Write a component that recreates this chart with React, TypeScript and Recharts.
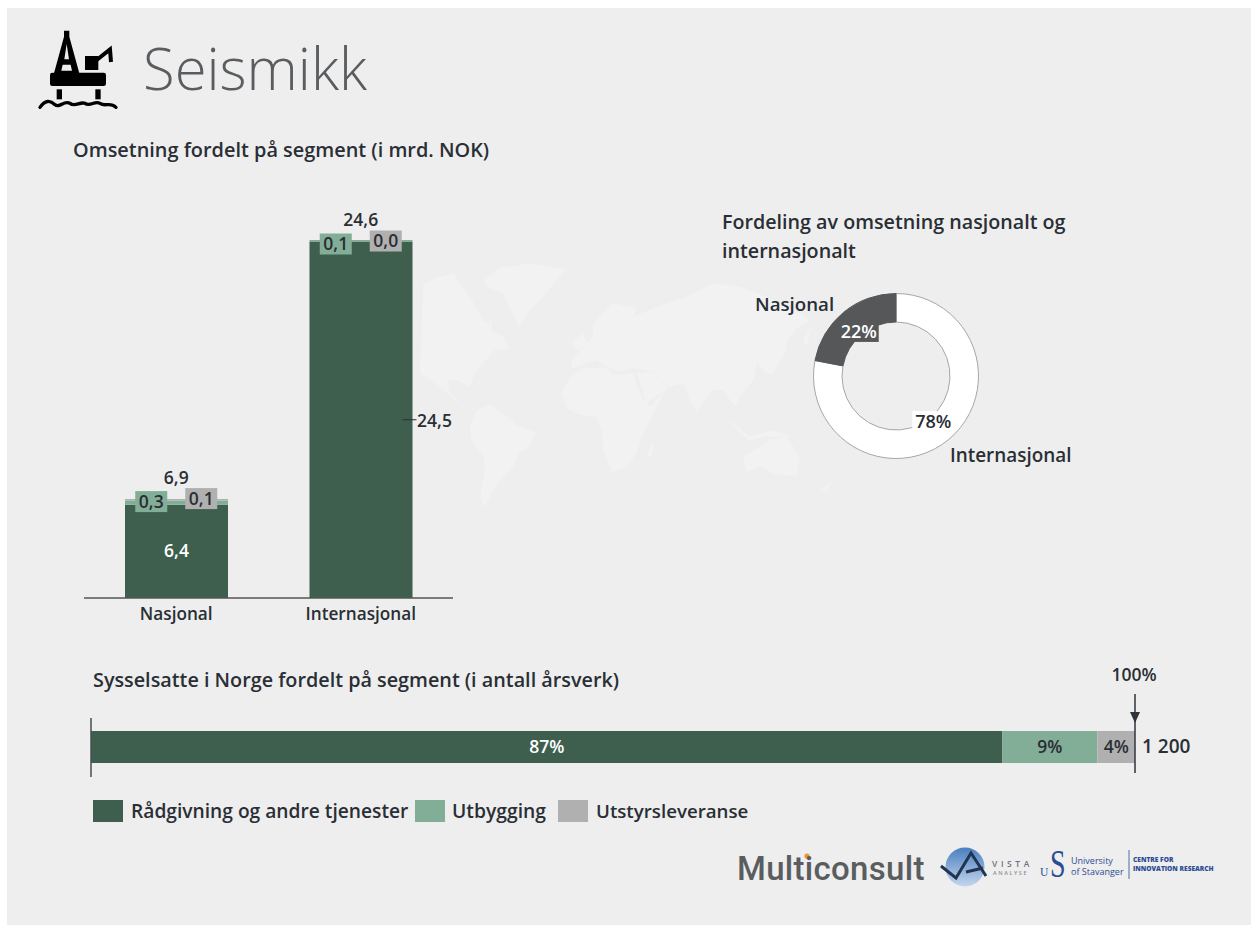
import { BarChart, ComposedChart, Bar, Line, XAxis, YAxis, LabelList, ReferenceLine, PieChart, Pie, Cell } from 'recharts'

// ── data ─────────────────────────────────────────────────────────────────────

const categories = ['Nasjonal', 'Internasjonal']
const radgivning = [6.4, 24.5]
const utbygging = [0.3, 0.1]
const utstyr = [0.1, 0.0]
const totals = [6.9, 24.6]

const donutNames = ['Internasjonal', 'Nasjonal']
const donutShares = [78, 22]

// bar widths, labels round them to whole percent
const staffShares = [87.3, 9.1, 3.6]
const staffTotal = '1 200'

const segmentNames = ['Rådgivning og andre tjenester', 'Utbygging', 'Utstyrsleveranse']

const DARK = '#3e5f4e'
const LIGHT = '#82ad96'
const GREY = '#b0b0b0'
const INK = '#2a2e35'
const FONT = '"Open Sans", sans-serif'

const revenueRows = categories.map((name, i) => ({
  name,
  radgivning: radgivning[i],
  utbygging: utbygging[i],
  utstyr: utstyr[i],
  total: totals[i],
}))
const staffRows = [{ name: 'Sysselsatte', a: staffShares[0], b: staffShares[1], c: staffShares[2] }]
const donutRows = donutNames.map((name, i) => ({ name, value: donutShares[i] }))

const comma = (v: number) => v.toFixed(1).replace('.', ',')

// ── small text helper ────────────────────────────────────────────────────────

function Txt({ x, y, children, size = 18, anchor = 'left', weight = 600, color = INK, family = FONT, spacing = 0, stretch = 1 }: any) {
  const shift = anchor === 'center' ? '-50%' : '0'
  return (
    <div
      style={{
        position: 'absolute', left: x, top: y, transform: `translate(${shift}, -50%) scaleY(${stretch})`,
        fontFamily: family, fontSize: size, fontWeight: weight, color, whiteSpace: 'nowrap',
        lineHeight: 1, letterSpacing: spacing,
      }}
    >
      {children}
    </div>
  )
}

// ── bar labels ───────────────────────────────────────────────────────────────

function svgText(x: number, y: number, text: string, fill = INK) {
  return (
    <text x={x} y={y - 1} textAnchor="middle" dominantBaseline="central" fontFamily={FONT} fontSize={17.5} fontWeight={600} fill={fill}>
      {text}
    </text>
  )
}

function labelBox(cx: number, cy: number, fill: string, value: number) {
  return (
    <g>
      <rect x={cx - 16} y={cy - 10.5} width={32} height={21} fill={fill} />
      {svgText(cx, cy, comma(value))}
    </g>
  )
}

// these three sit on the invisible total line: a zero-height bar gets no label,
// and the line is drawn after the bars so the boxes stay on top
function utbyggingLabel(props: any) {
  return labelBox(props.x - 25, props.y + 4, LIGHT, props.value)
}

function utstyrLabel(props: any) {
  return labelBox(props.x + 25, props.y + 1, GREY, props.value)
}

function totalLabel(props: any) {
  return svgText(props.x, props.y - 20, comma(props.value))
}

function mainLabel(props: any) {
  const { x, y, width, height, value, index } = props
  if (index === 0) return svgText(x + width / 2, y + height / 2, comma(value), '#fff')
  const cy = y + height / 2
  return (
    <g>
      <line x1={x + width - 10} x2={x + width + 4} y1={cy} y2={cy} stroke={INK} strokeWidth={1} />
      {svgText(x + width + 22, cy + 1, comma(value))}
    </g>
  )
}

function leftTick(props: any) {
  return <line x1={props.x1} x2={props.x1} y1={38} y2={97} stroke="#4a4d52" strokeWidth={1.5} />
}

function rightTick(props: any) {
  const x = props.x1
  return (
    <g>
      <line x1={x} x2={x} y1={14} y2={93} stroke="#3a3f47" strokeWidth={1.6} />
      <path d={`M${x - 5},32 L${x + 5},32 L${x},43 Z`} fill="#2f343c" />
    </g>
  )
}

function staffLabel(fill: string) {
  return (props: any) => {
    const { x, y, width, height, value } = props
    return svgText(x + width / 2, y + height / 2, `${Math.round(value)}%`, fill)
  }
}

function donutLabel(props: any) {
  const { cx, cy, midAngle, value, index } = props
  const rad = (midAngle * Math.PI) / 180
  const px = cx + 58.5 * Math.cos(rad)
  const py = cy - 58.5 * Math.sin(rad)
  const isNational = index === 1
  return (
    <g>
      <rect x={px - 21} y={py - 10} width={41} height={21} fill={isNational ? '#555759' : '#fff'} />
      <text x={px} y={py} textAnchor="middle" dominantBaseline="central" fontFamily={FONT} fontSize={18} fontWeight={600} fill={isNational ? '#fff' : INK}>
        {value}%
      </text>
    </g>
  )
}

// ── decoration: map, icon, logos ─────────────────────────────────────────────

const MAP_SHAPES = [
  '10,130 60,110 100,100 120,130 150,170 170,205 195,250 215,240 215,275 250,290 268,325 225,330 190,370 160,410 150,440 115,420 85,420 85,450 120,490 165,520 150,510 115,490 70,450 30,420 0,400',
  '190,120 240,85 330,70 440,88 410,120 370,170 320,220 300,260 270,210 250,160 200,140',
  '150,565 170,510 210,495 250,520 290,555 345,575 330,620 295,640 280,680 240,720 215,760 195,800 180,770 195,690 190,650 155,600',
  '425,460 450,410 490,385 560,385 580,405 640,400 665,470 690,500 735,450 710,500 680,560 660,600 650,640 620,680 575,695 550,630 545,570 530,530 480,525 440,505',
  '650,400 700,395 745,445 680,490',
  '455,385 455,360 490,320 520,290 520,250 580,190 650,205 640,230 700,205 800,170 880,130 960,140 1040,170 1150,225 1170,245 1130,265 1105,300 1095,340 1070,380 1040,400 1010,370 1000,420 960,470 950,500 930,480 910,450 875,450 830,515 805,470 790,430 745,440 700,395 640,385 600,395 560,380 530,360 500,370',
  '680,650 700,600 695,650',
  '455,310 490,280 500,320 470,330',
  '1150,300 1175,260 1160,320',
  '1040,400 1075,360 1060,400',
  '970,650 1050,600 1100,590 1140,650 1130,710 1060,700 1020,680 980,695',
  '1200,750 1240,720 1220,755',
  '900,520 990,590 1060,570 1120,590 1040,590 985,600',
]

function Decoration() {
  return (
    <svg width={1251} height={927} style={{ position: 'absolute', left: 0, top: 0 }}>
      <g transform="translate(420,240) scale(0.3333)" fill="#f2f2f2">
        {MAP_SHAPES.map((pts, i) => <polygon key={i} points={pts} />)}
      </g>

      <g transform="translate(30,20) scale(0.3333)" fill="#000">
        <path
          fillRule="evenodd"
          d="M102,32 H118 V50 L148,160 H72 L102,50 Z M110,72 L103,118 H117 Z M98,134 L94,152 H126 L122,134 Z"
        />
        <rect x="60" y="158" width="168" height="40" rx="7" />
        <rect x="165" y="108" width="40" height="42" />
        <path d="M200,120 L240,88 L243,126" fill="none" stroke="#000" strokeWidth="12" />
        <rect x="80" y="208" width="16" height="30" />
        <rect x="196" y="208" width="16" height="30" />
        <path
          d="M30,262 C45,240 60,240 75,254 C90,266 100,240 120,250 C135,262 150,244 165,250 C180,262 195,240 210,250 C225,262 240,244 258,262"
          fill="none" stroke="#000" strokeWidth="10" strokeLinecap="round"
        />
      </g>

      <circle cx="807" cy="856" r="2.6" fill="#f0922d" />

      <defs>
        <linearGradient id="vista" x1="0" y1="0" x2="0" y2="1">
          <stop offset="0" stopColor="#4a7fc0" />
          <stop offset="1" stopColor="#c4d6ee" />
        </linearGradient>
      </defs>
      <circle cx="965" cy="867" r="19.5" fill="url(#vista)" />
      <path d="M941,866 L956,878 L971,853 L986,876 M966,872 L983,868" fill="none" stroke="#22344f" strokeWidth="3" />
      <line x1="1129" x2="1129" y1="850" y2="879" stroke="#4d6fa6" strokeWidth="1" />
    </svg>
  )
}

function Logos() {
  return (
    <>
      <Txt x={737} y={868} size={33} weight={500} color="#5a5d60" family="Roboto, sans-serif" spacing={0.3}>Multiconsult</Txt>
      <Txt x={992} y={864} size={8.5} weight={600} color="#6d7278" spacing={3.6}>VISTA</Txt>
      <Txt x={993} y={874} size={5.5} weight={600} color="#8a8f95" spacing={1.6}>ANALYSE</Txt>
      <Txt x={1050} y={864} size={28} weight={400} color="#2b4c94" family='"Liberation Serif", serif' stretch={1.4}>S</Txt>
      <Txt x={1040} y={873} size={11.5} weight={400} color="#2b4c94" family='"Liberation Serif", serif'>U</Txt>
      <Txt x={1071} y={859.5} size={9} weight={400} color="#2b4c94">University</Txt>
      <Txt x={1071} y={870.5} size={9} weight={400} color="#2b4c94">of Stavanger</Txt>
      <Txt x={1133} y={860} size={6.6} weight={800} color="#2b4c94">CENTRE FOR</Txt>
      <Txt x={1133} y={868.5} size={6.6} weight={800} color="#2b4c94">INNOVATION RESEARCH</Txt>
    </>
  )
}

// ── page ─────────────────────────────────────────────────────────────────────

export default function App() {
  return (
    <div style={{ position: 'absolute', left: 0, top: 0, width: 1251, height: 927, background: '#fff', overflow: 'hidden' }}>
      <div style={{ position: 'absolute', left: 7, top: 8, width: 1244, height: 917, background: '#eeeeee' }} />
      <Decoration />

      <Txt x={143} y={68} size={58} weight={300} color="#5a5d60">Seismikk</Txt>
      <Txt x={73} y={150} size={19.9}>Omsetning fordelt på segment (i mrd. NOK)</Txt>
      <Txt x={722} y={222} size={19.7}>Fordeling av omsetning nasjonalt og</Txt>
      <Txt x={722} y={251} size={19.7}>internasjonalt</Txt>
      <Txt x={93} y={680} size={19.8}>Sysselsatte i Norge fordelt på segment (i antall årsverk)</Txt>

      {/* Stacked revenue bars */}
      <div style={{ position: 'absolute', left: 84, top: 200 }}>
        <ComposedChart width={369} height={440} data={revenueRows} margin={{ top: 0, right: 0, bottom: 0, left: 0 }}>
          <XAxis
            dataKey="name"
            height={42}
            tickLine={false}
            axisLine={{ stroke: '#555', strokeWidth: 1.5 }}
            tick={{ fill: INK, fontSize: 17.2, fontWeight: 600, fontFamily: FONT }}
            tickMargin={4}
            interval={0}
          />
          <YAxis hide domain={[0, 27.35]} />
          <Bar dataKey="radgivning" stackId="s" fill={DARK} barSize={103} isAnimationActive={false}>
            <LabelList dataKey="radgivning" content={mainLabel} />
          </Bar>
          <Bar dataKey="utbygging" stackId="s" fill={LIGHT} barSize={103} isAnimationActive={false} />
          <Bar dataKey="utstyr" stackId="s" fill={GREY} barSize={103} isAnimationActive={false} />
          {/* no stroke: only here to carry the labels above the bars */}
          <Line dataKey="total" stroke="none" dot={false} legendType="none" isAnimationActive={false}>
            <LabelList dataKey="total" content={totalLabel} />
            <LabelList dataKey="utbygging" content={utbyggingLabel} />
            <LabelList dataKey="utstyr" content={utstyrLabel} />
          </Line>
        </ComposedChart>
      </div>

      {/* Donut */}
      <div style={{ position: 'absolute', left: 796, top: 276 }}>
        <PieChart width={200} height={200} margin={{ top: 0, right: 0, bottom: 0, left: 0 }}>
          <Pie
            data={donutRows}
            dataKey="value"
            nameKey="name"
            cx={100}
            cy={100}
            innerRadius={54}
            outerRadius={82.5}
            startAngle={90}
            endAngle={-270}
            labelLine={false}
            label={donutLabel}
            isAnimationActive={false}
          >
            <Cell fill="#ffffff" stroke="#a6a6a6" strokeWidth={1} />
            <Cell fill="#555759" stroke="#555759" strokeWidth={1} />
          </Pie>
        </PieChart>
      </div>
      <Txt x={755} y={304} size={18.7}>{donutNames[1]}</Txt>
      <Txt x={950} y={455} size={18.9}>{donutNames[0]}</Txt>

      {/* Staff share bar */}
      <div style={{ position: 'absolute', left: 71, top: 680 }}>
        <BarChart width={1084} height={134} layout="vertical" data={staffRows} margin={{ top: 0, right: 20, bottom: 0, left: 20 }}>
          <XAxis type="number" hide domain={[0, 100]} />
          <YAxis type="category" dataKey="name" hide />
          <Bar dataKey="a" stackId="s" fill={DARK} barSize={32} isAnimationActive={false}>
            <LabelList dataKey="a" content={staffLabel('#fff')} />
          </Bar>
          <Bar dataKey="b" stackId="s" fill={LIGHT} barSize={32} isAnimationActive={false}>
            <LabelList dataKey="b" content={staffLabel(INK)} />
          </Bar>
          <Bar dataKey="c" stackId="s" fill={GREY} barSize={32} isAnimationActive={false}>
            <LabelList dataKey="c" content={staffLabel(INK)} />
          </Bar>
          <ReferenceLine x={0} shape={leftTick} />
          <ReferenceLine x={100} shape={rightTick} />
        </BarChart>
      </div>
      <Txt x={1134} y={675} size={17.5} anchor="center">100%</Txt>
      <Txt x={1142} y={746} size={19}>{staffTotal}</Txt>

      {/* Legend */}
      <div style={{ position: 'absolute', left: 93, top: 800, width: 30, height: 22, background: DARK }} />
      <Txt x={131} y={811} size={19.2}>{segmentNames[0]}</Txt>
      <div style={{ position: 'absolute', left: 415, top: 800, width: 30, height: 22, background: LIGHT }} />
      <Txt x={452} y={811} size={19.3}>{segmentNames[1]}</Txt>
      <div style={{ position: 'absolute', left: 558, top: 800, width: 30, height: 22, background: GREY }} />
      <Txt x={596} y={811} size={18.7}>{segmentNames[2]}</Txt>

      <Logos />
    </div>
  )
}
